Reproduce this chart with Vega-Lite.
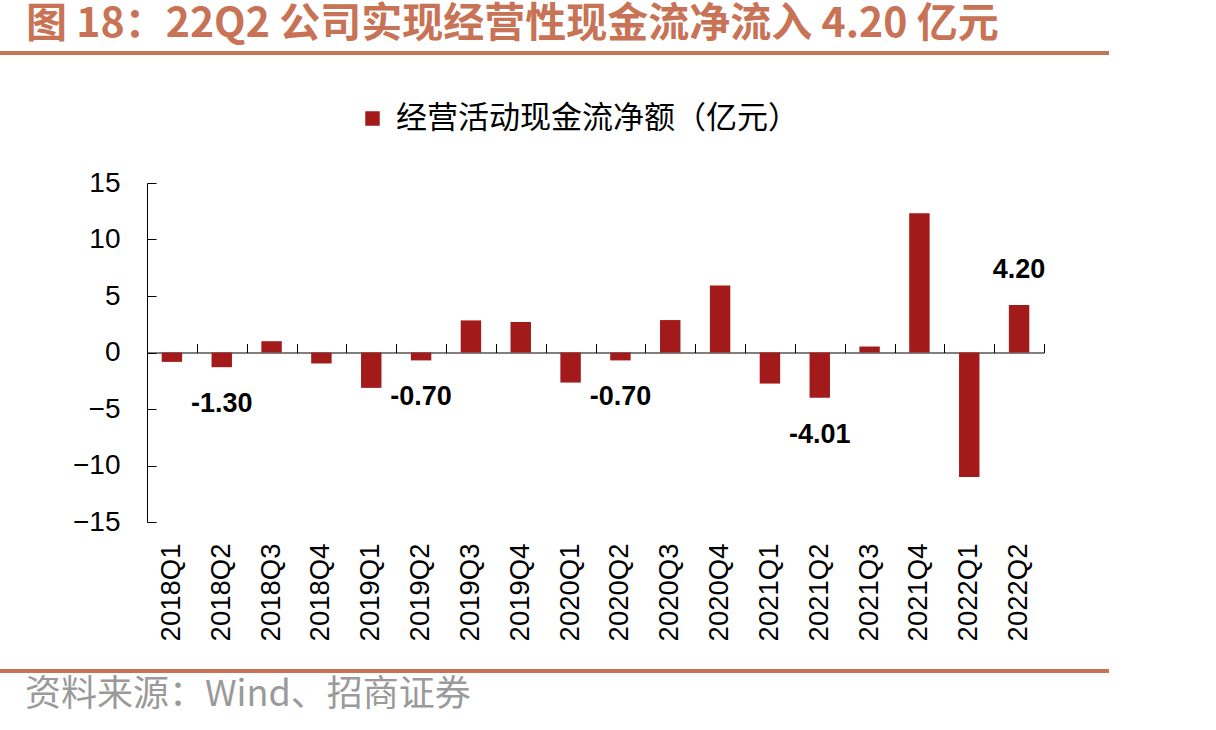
{
  "$schema": "https://vega.github.io/schema/vega-lite/v6.json",
  "padding": {"top": 4, "left": 0, "right": 0, "bottom": 0},
  "background": "white",
  "config": {"view": {"stroke": null}, "font": "Liberation Sans"},
  "title": {
    "text": "图 18：22Q2 公司实现经营性现金流净流入 4.20 亿元",
    "anchor": "start",
    "frame": "bounds",
    "font": "Noto Sans CJK SC",
    "fontSize": 41,
    "fontWeight": "bold",
    "color": "#C87355",
    "dx": 26,
    "offset": 5
  },
  "columns": 1,
  "spacing": 20,
  "concat": [
    {
      "width": 1105,
      "height": 0.01,
      "view": {"stroke": "#C87355", "strokeWidth": 4},
      "data": {"values": []},
      "mark": "rule",
      "encoding": {}
    },
    {
      "width": 1109,
      "height": 339,
      "data": {
        "values": [
          {"q": "2018Q1", "v": -0.83},
          {"q": "2018Q2", "v": -1.30, "lab": "-1.30"},
          {"q": "2018Q3", "v": 1.00},
          {"q": "2018Q4", "v": -0.97},
          {"q": "2019Q1", "v": -3.13},
          {"q": "2019Q2", "v": -0.70, "lab": "-0.70"},
          {"q": "2019Q3", "v": 2.84},
          {"q": "2019Q4", "v": 2.69},
          {"q": "2020Q1", "v": -2.66},
          {"q": "2020Q2", "v": -0.70, "lab": "-0.70"},
          {"q": "2020Q3", "v": 2.87},
          {"q": "2020Q4", "v": 5.94},
          {"q": "2021Q1", "v": -2.75},
          {"q": "2021Q2", "v": -4.01, "lab": "-4.01"},
          {"q": "2021Q3", "v": 0.53},
          {"q": "2021Q4", "v": 12.32},
          {"q": "2022Q1", "v": -11.02},
          {"q": "2022Q2", "v": 4.20, "lab": "4.20"}
        ]
      },
      "resolve": {"axis": {"x": "independent"}},
      "layer": [
        {
          "mark": {"type": "bar", "width": {"band": 0.41}},
          "encoding": {
            "x": {
              "field": "q",
              "type": "ordinal",
              "scale": {"paddingInner": 0, "paddingOuter": 0, "range": [145, 1042]},
              "axis": {
                "orient": "bottom",
                "title": null,
                "domain": false,
                "ticks": false,
                "labelAngle": -90,
                "labelFont": "Liberation Sans",
                "labelFontSize": 27.5,
                "labelColor": "#000000",
                "labelPadding": 21,
                "labelOverlap": false,
                "minExtent": 126.5
              }
            },
            "y": {
              "field": "v",
              "type": "quantitative",
              "scale": {"domain": [-15, 15], "nice": false},
              "axis": {
                "title": null,
                "offset": -145,
                "values": [-15, -10, -5, 0, 5, 10, 15],
                "grid": false,
                "domainColor": "#000000",
                "tickColor": "#000000",
                "tickSize": -9,
                "labelPadding": 36,
                "labelFont": "Liberation Sans",
                "labelFontSize": 28,
                "labelColor": "#000000"
              }
            },
            "color": {
              "datum": "经营活动现金流净额（亿元）",
              "scale": {"range": ["#A31A1A"]},
              "legend": {
                "orient": "none",
                "legendX": 355,
                "legendY": 50,
                "padding": 0,
                "title": null,
                "symbolType": "square",
                "symbolSize": 210,
                "symbolStrokeWidth": 0,
                "labelFont": "Noto Sans CJK SC",
                "labelFontSize": 31,
                "labelColor": "#000000",
                "labelOffset": 8,
                "labelLimit": 1000
              }
            }
          }
        },
        {
          "transform": [{"filter": "datum.lab && datum.v > 0"}],
          "mark": {"type": "text", "dy": -35, "font": "Liberation Sans", "fontSize": 27, "fontWeight": "bold", "baseline": "middle", "color": "#000000"},
          "encoding": {
            "x": {
              "field": "q",
              "type": "ordinal",
              "axis": {
                "orient": "top",
                "offset": -169.5,
                "title": null,
                "labels": false,
                "tickBand": "extent",
                "tickSize": 9,
                "tickColor": "#000000",
                "domainColor": "#000000",
                "minExtent": 276
              }
            },
            "y": {"field": "v", "type": "quantitative"},
            "text": {"field": "lab"}
          }
        },
        {
          "transform": [{"filter": "datum.lab && datum.v < 0"}],
          "mark": {"type": "text", "dy": 37, "font": "Liberation Sans", "fontSize": 27, "fontWeight": "bold", "baseline": "middle", "color": "#000000"},
          "encoding": {
            "x": {"field": "q", "type": "ordinal", "axis": null},
            "y": {"field": "v", "type": "quantitative"},
            "text": {"field": "lab"}
          }
        }
      ]
    },
    {
      "width": 1105,
      "height": 0.01,
      "view": {"stroke": "#C87355", "strokeWidth": 4},
      "title": {
        "text": "资料来源：Wind、招商证券",
        "orient": "bottom",
        "anchor": "start",
        "frame": "bounds",
        "font": "Noto Sans CJK SC",
        "fontSize": 36,
        "fontWeight": "normal",
        "color": "#9A9A9A",
        "offset": 7,
        "dx": 23
      },
      "data": {"values": []},
      "mark": "rule",
      "encoding": {}
    }
  ]
}
